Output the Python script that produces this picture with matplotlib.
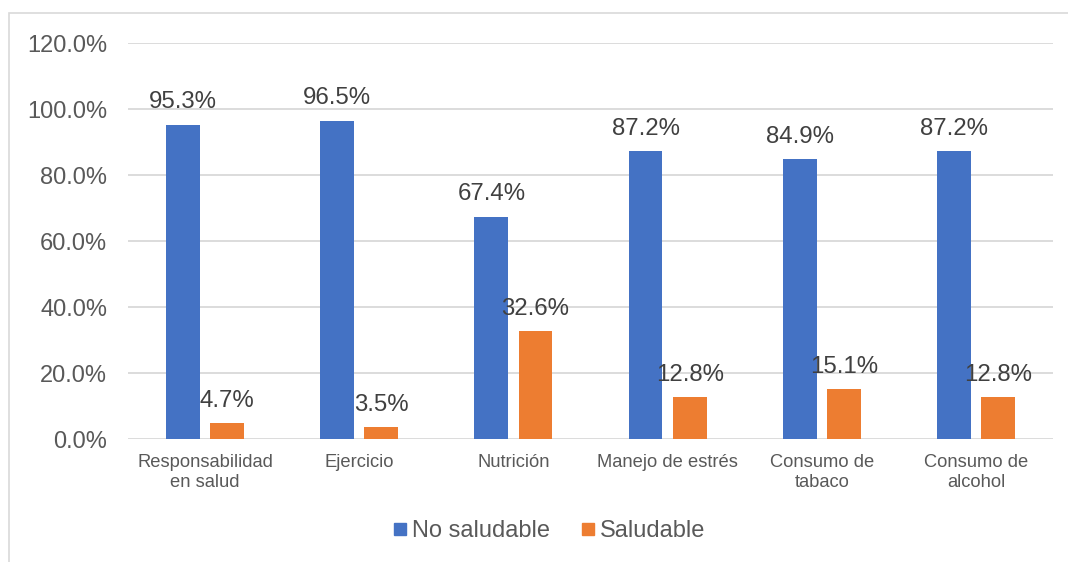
import matplotlib
matplotlib.use("Agg")
import matplotlib.pyplot as plt
from matplotlib.lines import Line2D
from matplotlib.patches import Rectangle
import numpy as np

categories = ["Responsabilidad\nen salud", "Ejercicio", "Nutrición", "Manejo de estrés",
              "Consumo de\ntabaco", "Consumo de\nalcohol"]
no_saludable = [95.3, 96.5, 67.4, 87.2, 84.9, 87.2]
saludable = [4.7, 3.5, 32.6, 12.8, 15.1, 12.8]
series_names = ["No saludable", "Saludable"]
yticks = [0, 20, 40, 60, 80, 100, 120]

BLUE = "#4472C4"
ORANGE = "#ED7D31"
GRID = "#D9D9D9"
TXT = "#595959"
LBL = "#404040"

plt.rcParams['font.family'] = ['Liberation Sans', 'DejaVu Sans']

fig = plt.figure(figsize=(10.68, 5.62), dpi=100)
W, H = 1068, 562
ax = fig.add_axes([128 / W, (H - 439) / H, (1053 - 128) / W, (439 - 43) / H])

x = np.arange(len(categories))
bw = 0.22
off = 0.143
b1 = ax.bar(x - off, no_saludable, bw, color=BLUE, zorder=3)
b2 = ax.bar(x + off, saludable, bw, color=ORANGE, zorder=3)

for bars, vals in ((b1, no_saludable), (b2, saludable)):
    for rect, v in zip(bars, vals):
        ax.annotate(f"{v:.1f}%", (rect.get_x() + rect.get_width() / 2, v),
                    xytext=(0, 16), textcoords="offset points",
                    ha="center", va="center", fontsize=17.3, color=LBL, zorder=4)

ax.set_xlim(-0.5, len(categories) - 0.5)
ax.set_ylim(0, 120)
ax.set_yticks(yticks)
ax.set_yticklabels([f"{t:.1f}%" for t in yticks], fontsize=17, color=TXT)
ax.set_xticks(x)
ax.set_xticklabels(categories, fontsize=13.2, color=TXT, linespacing=1.2)
ax.tick_params(axis="y", length=0, pad=15)
ax.tick_params(axis="x", length=0, pad=11)
ax.grid(axis="y", color=GRID, linewidth=1.3, zorder=0)
for s in ax.spines.values():
    s.set_visible(False)

handles = [Line2D([], [], marker="s", linestyle="none", color=BLUE, markersize=9),
           Line2D([], [], marker="s", linestyle="none", color=ORANGE, markersize=9)]
fig.legend(handles, series_names, loc="center", bbox_to_anchor=(549 / W, (H - 531) / H),
           ncol=2, frameon=False, fontsize=17, labelcolor=TXT,
           handlelength=0.6, handletextpad=0.2, columnspacing=1.3)

fig.patches.append(Rectangle((9 / W, -0.1), 1.2, (H - 13) / H + 0.1, transform=fig.transFigure,
                             fill=False, edgecolor=GRID, linewidth=1.2, clip_on=False))

fig.savefig("out.png", dpi=100)
